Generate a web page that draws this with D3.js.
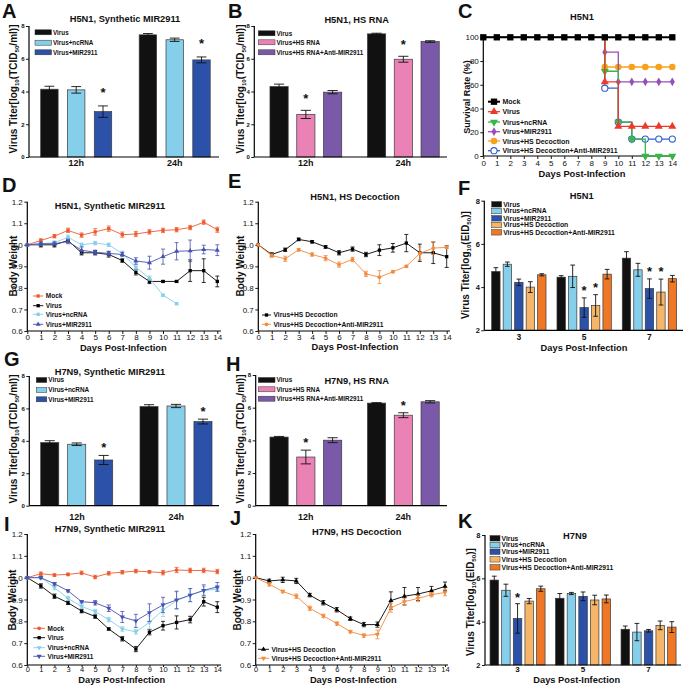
<!DOCTYPE html>
<html><head><meta charset="utf-8">
<script src="https://cdn.jsdelivr.net/npm/d3@7"></script>
<style>
body{margin:0;background:#fff;}
svg text{font-family:"Liberation Sans",Arial,Helvetica,sans-serif;}
</style></head><body>
<svg id="fig" width="685" height="686"></svg>
<script>
// ---------------- DATA ----------------
const hourCats = ["12h", "24h"];
const dpiCats = ["3", "5", "7"];
const days = [0,1,2,3,4,5,6,7,8,9,10,11,12,13,14];

// A  H5N1, Synthetic MIR2911 (rows = series, cols = 12h, 24h)
const aSeries = ["Virus", "Virus+ncRNA", "Virus+MIR2911"];
const aMean = [[4.14, 7.46], [4.10, 7.16], [2.77, 5.93]];
const aErr  = [[0.18, 0.08], [0.20, 0.10], [0.35, 0.18]];
const aStar = [[0, 0], [0, 0], [1, 1]];

// B  H5N1, HS RNA
const bSeries = ["Virus", "Virus+HS RNA", "Virus+HS RNA+Anti-MIR2911"];
const bMean = [[4.30, 7.52], [2.60, 5.97], [3.96, 7.05]];
const bErr  = [[0.15, 0.04], [0.25, 0.18], [0.10, 0.05]];
const bStar = [[0, 0], [1, 1], [0, 0]];

// C  H5N1 survival (%)
const cSeries = ["Mock", "Virus", "Virus+ncRNA", "Virus+MIR2911", "Virus+HS Decoction", "Virus+HS Decoction+Anti-MIR2911"];
const cMock  = [100,100,100,100,100,100,100,100,100,100,100,100,100,100,100];
const cVirus = [100,100,100,100,100,100,100,100,100,62.5,25,25,25,25,25];
const cNc    = [100,100,100,100,100,100,100,100,100,71.4,28.6,14.3,0,0,0];
const cMir   = [100,100,100,100,100,100,100,100,100,87.5,62.5,62.5,62.5,62.5,62.5];
const cDec   = [100,100,100,100,100,100,100,100,100,75,75,75,75,75,75];
const cAnti  = [100,100,100,100,100,100,100,100,100,57.1,28.6,14.3,14.3,14.3,14.3];

// D  H5N1, Synthetic MIR2911 body weight
const dMock     = [1.00,1.02,1.04,1.067,1.045,1.06,1.075,1.047,1.05,1.06,1.067,1.07,1.08,1.105,1.07];
const dMockErr  = [0,0.008,0.008,0.01,0.01,0.015,0.012,0.012,0.012,0.01,0.01,0.01,0.01,0.01,0.012];
const dVirus    = [1.00,1.00,1.00,1.02,0.963,0.963,0.955,0.927,0.872,0.83,0.83,0.83,0.88,0.88,0.83];
const dVirusErr = [0,0.01,0.01,0.01,0.01,0.01,0.012,0.008,0.012,0.01,0.004,0.004,0.05,0.055,0.025];
const dNc       = [1.00,1.005,1.01,1.035,1.00,1.008,1.00,0.96,0.895,0.845,0.766,0.727];
const dNcErr    = [0,0.005,0.008,0.01,0.008,0.008,0.008,0.01,0.012,0.01,0.005,0.005];
const dMir      = [1.00,1.005,1.005,1.015,0.975,0.965,0.96,0.955,0.925,0.917,0.945,0.97,0.972,0.978,0.975];
const dMirErr   = [0,0.008,0.008,0.01,0.015,0.01,0.01,0.01,0.015,0.03,0.035,0.04,0.05,0.02,0.025];

// E  H5N1, HS Decoction body weight
const eVirus    = [1.00,0.955,0.977,1.025,1.014,0.99,0.963,0.98,0.955,0.975,0.986,1.008,0.963,0.963,0.945];
const eVirusErr = [0,0.008,0.008,0.006,0.006,0.006,0.01,0.01,0.01,0.025,0.02,0.04,0.04,0.05,0.05];
const eAnti     = [1.00,0.95,0.935,0.977,0.955,0.938,0.908,0.932,0.865,0.85,0.875,0.90,0.96,0.985,0.988];
const eAntiErr  = [0,0.008,0.012,0.006,0.008,0.012,0.012,0.01,0.012,0.03,0.005,0.005,0.03,0.03,0.005];

// F  H5N1 lung titer (rows = series, cols = day 3, 5, 7)
const fSeries = ["Virus", "Virus+ncRNA", "Virus+MIR2911", "Virus+HS Decoction", "Virus+HS Decoction+Anti-MIR2911"];
const fMean = [[4.72, 4.46, 5.34], [5.06, 4.50, 4.80], [4.22, 3.05, 3.93], [4.00, 3.15, 3.77], [4.57, 4.60, 4.39]];
const fErr  = [[0.18, 0.07, 0.30], [0.10, 0.52, 0.30], [0.15, 0.45, 0.45], [0.25, 0.50, 0.60], [0.05, 0.22, 0.15]];
const fStar = [[0, 0, 0], [0, 0, 0], [0, 1, 1], [0, 1, 1], [0, 0, 0]];

// G  H7N9, Synthetic MIR2911
const gMean = [[3.89, 6.11], [3.79, 6.15], [2.82, 5.19]];
const gErr  = [[0.12, 0.12], [0.08, 0.10], [0.28, 0.15]];
const gStar = [[0, 0], [0, 0], [1, 1]];

// H  H7N9, HS RNA
const hMean = [[4.20, 6.28], [2.98, 5.54], [4.01, 6.36]];
const hErr  = [[0.04, 0.03], [0.42, 0.15], [0.15, 0.07]];
const hStar = [[0, 0], [1, 1], [0, 0]];

// I  H7N9, Synthetic MIR2911 body weight
const iMock     = [1.00,1.018,1.012,1.015,1.022,1.003,1.02,1.025,1.03,1.027,1.023,1.035,1.033,1.033,1.028];
const iMockErr  = [0,0.008,0.006,0.006,0.008,0.008,0.008,0.008,0.008,0.006,0.01,0.012,0.01,0.01,0.01];
const iVirus    = [1.00,0.962,0.915,0.885,0.847,0.822,0.765,0.72,0.673,0.75,0.78,0.795,0.808,0.89,0.865];
const iVirusErr = [0,0.01,0.01,0.008,0.008,0.008,0.005,0.01,0.012,0.012,0.02,0.03,0.015,0.02,0.025];
const iNc       = [1.00,1.00,0.955,0.905,0.868,0.845,0.808,0.765,0.752,0.795,0.852,0.895,0.92,0.94,0.948];
const iNcErr    = [0,0.005,0.01,0.01,0.01,0.01,0.01,0.01,0.01,0.03,0.03,0.04,0.03,0.02,0.01];
const iMir      = [1.00,1.00,0.972,0.94,0.89,0.885,0.86,0.82,0.802,0.84,0.875,0.898,0.92,0.942,0.958];
const iMirErr   = [0,0.005,0.006,0.005,0.005,0.01,0.015,0.025,0.03,0.04,0.035,0.04,0.03,0.025,0.02];

// J  H7N9, HS Decoction body weight
const jVirus    = [1.00,0.985,0.99,0.985,0.92,0.885,0.853,0.812,0.785,0.785,0.895,0.915,0.925,0.94,0.96];
const jVirusErr = [0,0.008,0.012,0.012,0.008,0.01,0.01,0.008,0.01,0.012,0.04,0.04,0.03,0.02,0.02];
const jAnti     = [1.00,0.97,0.937,0.915,0.86,0.825,0.79,0.753,0.735,0.74,0.862,0.89,0.905,0.922,0.932];
const jAntiErr  = [0,0.008,0.006,0.01,0.01,0.008,0.008,0.006,0.008,0.02,0.02,0.015,0.015,0.01,0.015];

// K  H7N9 lung titer
const kMean = [[5.92, 5.08, 3.65], [5.45, 5.30, 3.52], [4.15, 5.17, 3.58], [4.95, 5.00, 3.83], [5.52, 5.05, 3.75]];
const kErr  = [[0.18, 0.22, 0.15], [0.28, 0.05, 0.40], [0.68, 0.20, 0.06], [0.12, 0.22, 0.20], [0.12, 0.18, 0.25]];
const kStar = [[0, 0, 0], [0, 0, 0], [1, 0, 0], [0, 0, 0], [0, 0, 0]];

const titerTicks = [0, 2, 4, 6, 8];
const eidTicks = [2, 4, 6, 8];
const bwTicks = [0.6, 0.7, 0.8, 0.9, 1.0, 1.1, 1.2];
const survTicks = [0, 20, 40, 60, 80, 100];

// ---------------- STYLE ----------------
const FONT = '"Liberation Sans", Arial, Helvetica, sans-serif';
const C = {
  black: "#111111", lblue: "#86cfea", dblue: "#2b52a8", pink: "#ea82b5", purple: "#7a5aa8",
  lorange: "#f6b66a", orange: "#ef7826",
  mock: "#ee5a30", mirLine: "#4752b0", antiLine: "#f48a3c",
  cRed: "#ec3a2a", cGreen: "#3bb54a", cPurple: "#9650b8", cOrange: "#f7a21c", cBlue: "#2f5fd0"
};

const svg = d3.select("#fig");

function txt(g, x, y, s, size, o = {}) {
  return g.append("text").attr("x", x).attr("y", y).text(s)
    .attr("font-size", size).attr("font-weight", o.weight || "bold")
    .attr("text-anchor", o.anchor || "start").attr("fill", o.fill || "#111");
}

function vTitle(x, yc, parts, size) {
  const t = svg.append("text").attr("transform", `translate(${x},${yc}) rotate(-90)`)
    .attr("text-anchor", "middle").attr("font-size", size).attr("font-weight", "bold")
    .attr("dominant-baseline", "central").attr("fill", "#111");
  let shifted = false;
  parts.forEach(p => {
    if (typeof p === "string") {
      const ts = t.append("tspan").text(p);
      if (shifted) { ts.attr("dy", -size * 0.3); shifted = false; }
    } else {
      t.append("tspan").text(p.sub).attr("font-size", size * 0.62).attr("dy", size * 0.3);
      shifted = true;
    }
  });
}

function styleAxis(a, size, weight) {
  a.attr("font-family", FONT);
  a.select(".domain").remove();
  a.selectAll(".tick line").attr("stroke", "#000").attr("stroke-width", 0.9);
  a.selectAll(".tick text").attr("font-size", size).attr("font-weight", weight).attr("fill", "#111");
}

function barPanel(o) {
  const g = svg.append("g");
  const x0 = d3.scaleBand().domain(o.cats).range(o.xRange);
  const bw = x0.bandwidth();
  const x1 = d3.scaleBand().domain(o.series).range([o.inner[0] * bw, o.inner[1] * bw]).paddingInner(o.pad);
  const y = d3.scaleLinear().domain(o.yDomain).range(o.yRange);
  const base = y(o.yDomain[0]);
  const w = x1.bandwidth();
  o.series.forEach((s, si) => {
    o.cats.forEach((c, ci) => {
      const v = o.mean[si][ci], e = o.err[si][ci];
      const bx = x0(c) + x1(s), cx = bx + w / 2;
      g.append("rect").attr("x", bx).attr("y", y(v)).attr("width", w).attr("height", base - y(v))
        .attr("fill", o.colors[si]).attr("stroke", "#3a3a3a").attr("stroke-width", 0.7);
      const cw = w * 0.28;
      const eg = g.append("g").attr("stroke", "#111").attr("stroke-width", 0.9);
      eg.append("line").attr("x1", cx).attr("x2", cx).attr("y1", y(v - e)).attr("y2", y(v + e));
      [v - e, v + e].forEach(q => eg.append("line").attr("x1", cx - cw).attr("x2", cx + cw).attr("y1", y(q)).attr("y2", y(q)));
      if (o.star[si][ci]) txt(g, cx, y(v + e) - o.starOff + 7.5, "*", 13, { anchor: "middle" });
    });
  });
  const ya = g.append("g").attr("transform", `translate(${o.yAxisX},0)`)
    .call(d3.axisLeft(y).tickValues(o.yTicks).tickSize(3).tickPadding(1.5).tickFormat(d3.format("d")));
  styleAxis(ya, o.tickSize, "bold");
  ya.append("line").attr("y1", o.yRange[0]).attr("y2", o.yRange[1]).attr("stroke", "#000").attr("stroke-width", 1.2);
  g.append("line").attr("x1", o.yAxisX).attr("x2", o.axisEnd).attr("y1", base).attr("y2", base)
    .attr("stroke", "#000").attr("stroke-width", 1.2);
  o.cats.forEach(c => txt(g, x0(c) + bw / 2, o.catY, c, o.catSize, { anchor: "middle" }));
  o.series.forEach((s, si) => {
    const ly = o.legY[si];
    g.append("rect").attr("x", o.legX).attr("y", ly - o.swH / 2).attr("width", o.swW).attr("height", o.swH)
      .attr("fill", o.colors[si]).attr("stroke", "#333").attr("stroke-width", 0.5);
    txt(g, o.legX + o.swW + 1.5, ly + o.legSize * 0.36, s, o.legSize);
  });
}

function symPath(type, size) { return d3.symbol().type(type).size(size)(); }

function linePanel(o) {
  const g = svg.append("g");
  const x = d3.scaleLinear().domain([days[0], days[days.length - 1]]).range(o.xRange);
  const y = d3.scaleLinear().domain(o.yDomain).range(o.yRange);
  const xa = g.append("g").attr("transform", `translate(0,${o.yRange[0]})`)
    .call(d3.axisBottom(x).tickValues(days).tickSize(o.xTick || 3).tickPadding(o.xPad || 0).tickFormat(d3.format("d")));
  styleAxis(xa, o.xTickSize || 8, o.xTickWeight || "normal");
  xa.append("line").attr("x1", o.xRange[0]).attr("x2", o.axisEnd).attr("stroke", "#000").attr("stroke-width", 1.2);
  const ya = g.append("g").attr("transform", `translate(${o.xRange[0]},0)`)
    .call(d3.axisLeft(y).tickValues(o.yTicks).tickSize(3).tickPadding(1.5).tickFormat(o.yFmt));
  styleAxis(ya, o.yTickSize || 8, o.yTickWeight || "normal");
  ya.append("line").attr("y1", o.yRange[0]).attr("y2", o.yRange[1]).attr("stroke", "#000").attr("stroke-width", 1.2);

  o.series.forEach(s => {
    const pts = s.values.map((v, i) => ({ d: days[i], v, e: s.errs ? s.errs[i] : 0 }));
    g.append("path").datum(pts)
      .attr("d", d3.line().x(p => x(p.d)).y(p => y(p.v)).curve(o.curve || d3.curveLinear))
      .attr("fill", "none").attr("stroke", s.color).attr("stroke-width", s.lw || o.lw || 1);
    const cw = o.cap || 2;
    pts.forEach(p => {
      if (p.e > 0) {
        const eg = g.append("g").attr("stroke", s.color).attr("stroke-width", 0.8);
        eg.append("line").attr("x1", x(p.d)).attr("x2", x(p.d)).attr("y1", y(p.v - p.e)).attr("y2", y(p.v + p.e));
        [p.v - p.e, p.v + p.e].forEach(q => eg.append("line").attr("x1", x(p.d) - cw).attr("x2", x(p.d) + cw).attr("y1", y(q)).attr("y2", y(q)));
      }
    });
    pts.forEach(p => {
      if (s.skip !== undefined && p.v === s.skip) return;
      g.append("path").attr("d", symPath(s.sym, s.size || o.symSize))
        .attr("transform", `translate(${x(p.d)},${y(p.v)}) rotate(${s.rot || 0})`)
        .attr("fill", s.fill || s.color).attr("stroke", s.stroke || "none").attr("stroke-width", s.sw || 0);
    });
  });
  // legend
  o.series.forEach((s, si) => {
    const li = o.legOrder ? o.legOrder.indexOf(si) : si;
    const ly = o.legY[li];
    g.append("line").attr("x1", o.legX[0]).attr("x2", o.legX[1]).attr("y1", ly).attr("y2", ly)
      .attr("stroke", s.color).attr("stroke-width", s.lw || o.lw || 1);
    g.append("path").attr("d", symPath(s.sym, (s.size || o.symSize) * (o.legSym || 1)))
      .attr("transform", `translate(${(o.legX[0] + o.legX[1]) / 2},${ly}) rotate(${s.rot || 0})`)
      .attr("fill", s.fill || s.color).attr("stroke", s.stroke || "none").attr("stroke-width", s.sw || 0);
    txt(g, o.legX[1] + 2.5, ly + o.legSize * 0.36, s.name, o.legSize);
  });
}

const tcidParts = ["Virus Titer[log", { sub: "10" }, "(TCID", { sub: "50" }, "/ml)]"];
const eidParts = ["Virus Titer[log", { sub: "10" }, "(EID", { sub: "50" }, ")]"];
const fmt1 = d3.format(".1f");

// ---------------- PANELS ----------------
const colsA = [C.black, C.lblue, C.dblue];
const colsB = [C.black, C.pink, C.purple];
const cols5 = [C.black, C.lblue, C.dblue, C.lorange, C.orange];

barPanel({ cats: hourCats, series: aSeries, mean: aMean, err: aErr, star: aStar, colors: colsA,
  xRange: [27, 224], inner: [0.139, 0.86], pad: 0.35, yDomain: [0, 8], yRange: [157, 26], yTicks: titerTicks,
  yAxisX: 29, axisEnd: 219, catY: 166, catSize: 9, legX: 35, swW: 16.5, swH: 5, legY: [32.3, 42.7, 52.3],
  legSize: 6.3, starOff: 16, tickSize: 6 });
barPanel({ cats: hourCats, series: bSeries, mean: bMean, err: bErr, star: bStar, colors: colsB,
  xRange: [257, 452], inner: [0.133, 0.869], pad: 0.32, yDomain: [0, 8], yRange: [157, 26], yTicks: titerTicks,
  yAxisX: 254.3, axisEnd: 447, catY: 166, catSize: 9, legX: 258.3, swW: 16.7, swH: 5, legY: [33.3, 42.3, 52.3],
  legSize: 6.3, starOff: 15, tickSize: 6 });
barPanel({ cats: hourCats, series: aSeries, mean: gMean, err: gErr, star: gStar, colors: colsA,
  xRange: [27.3, 225.9], inner: [0.135, 0.86], pad: 0.33, yDomain: [0, 8], yRange: [505.7, 376], yTicks: titerTicks,
  yAxisX: 29.3, axisEnd: 219, catY: 519.5, catSize: 9, legX: 36.3, swW: 10.5, swH: 5, legY: [380, 390, 399.3],
  legSize: 6.4, starOff: 11, tickSize: 6 });
barPanel({ cats: hourCats, series: bSeries, mean: hMean, err: hErr, star: hStar, colors: colsB,
  xRange: [257, 452], inner: [0.133, 0.869], pad: 0.32, yDomain: [0, 8], yRange: [505.7, 375], yTicks: titerTicks,
  yAxisX: 255.7, axisEnd: 447, catY: 519.5, catSize: 9, legX: 258.3, swW: 16.7, swH: 5, legY: [380, 389.3, 398.7],
  legSize: 6.3, starOff: 10.5, tickSize: 6 });
barPanel({ cats: dpiCats, series: fSeries, mean: fMean, err: fErr, star: fStar, colors: cols5,
  xRange: [486.2, 682.1], inner: [0.084, 0.916], pad: 0.27, yDomain: [2, 8], yRange: [330.3, 200.7], yTicks: eidTicks,
  yAxisX: 484.3, axisEnd: 683, catY: 339.5, catSize: 8.5, legX: 491.7, swW: 10, swH: 5.5, legY: [204.3, 211, 218.3, 225, 232.3],
  legSize: 6.8, starOff: 10.5, tickSize: 7.5 });
barPanel({ cats: dpiCats, series: fSeries, mean: kMean, err: kErr, star: kStar, colors: cols5,
  xRange: [484.8, 681.3], inner: [0.08, 0.92], pad: 0.27, yDomain: [2, 8], yRange: [665, 535], yTicks: eidTicks,
  yAxisX: 485, axisEnd: 681, catY: 671.8, catSize: 8, legX: 490, swW: 10, swH: 5.5, legY: [538.3, 545, 551.7, 559.3, 567.3],
  legSize: 6.8, starOff: 9, tickSize: 7.5 });

// C survival
linePanel({
  xRange: [483.3, 672.3], axisEnd: 675, yDomain: [0, 100], yRange: [156, 37.3], yTicks: survTicks, yFmt: d3.format("d"),
  curve: d3.curveStepAfter, lw: 1.3, symSize: 30, xTick: 3, xPad: 1.5, xTickSize: 8, yTickSize: 8,
  legX: [488, 500], legY: [101.7, 111.7, 122, 131.7, 141, 150.7], legSize: 7, legOrder: [5, 4, 3, 2, 1, 0],
  series: [
    { name: cSeries[5], values: cAnti, color: C.cBlue, sym: d3.symbolCircle, size: 30, fill: "#fff", stroke: C.cBlue, sw: 1.1, skip: 100 },
    { name: cSeries[4], values: cDec, color: C.cOrange, sym: d3.symbolCircle, size: 34, skip: 100 },
    { name: cSeries[3], values: cMir, color: C.cPurple, sym: d3.symbolDiamond, size: 22, skip: 100 },
    { name: cSeries[2], values: cNc, color: C.cGreen, sym: d3.symbolTriangle, size: 28, rot: 180, skip: 100 },
    { name: cSeries[1], values: cVirus, color: C.cRed, sym: d3.symbolTriangle, size: 28, skip: 100 },
    { name: cSeries[0], values: cMock, color: "#000", sym: d3.symbolSquare, size: 40, lw: 2 }
  ]
});

// D
linePanel({
  xRange: [27.3, 217.3], axisEnd: 221, yDomain: [0.6, 1.2], yRange: [331, 201.7], yTicks: bwTicks, yFmt: fmt1,
  lw: 0.9, symSize: 11, cap: 2, legX: [33, 43.3], legY: [296, 305.7, 314.3, 324.3], legSize: 6.5,
  series: [
    { name: "Mock", values: dMock, errs: dMockErr, color: C.mock, sym: d3.symbolSquare },
    { name: "Virus", values: dVirus, errs: dVirusErr, color: "#000", sym: d3.symbolSquare },
    { name: "Virus+ncRNA", values: dNc, errs: dNcErr, color: C.lblue, sym: d3.symbolSquare },
    { name: "Virus+MIR2911", values: dMir, errs: dMirErr, color: C.mirLine, sym: d3.symbolTriangle }
  ]
});
// E
linePanel({
  xRange: [258.3, 446.7], axisEnd: 450, yDomain: [0.6, 1.2], yRange: [331, 201.7], yTicks: bwTicks, yFmt: fmt1,
  lw: 0.9, symSize: 11, cap: 2, legX: [262, 271], legY: [315, 324.3], legSize: 6.7,
  series: [
    { name: "Virus+HS Decoction", values: eVirus, errs: eVirusErr, color: "#000", sym: d3.symbolSquare },
    { name: "Virus+HS Decoction+Anti-MIR2911", values: eAnti, errs: eAntiErr, color: C.antiLine, sym: d3.symbolCircle }
  ]
});
// I
linePanel({
  xRange: [27.3, 217.3], axisEnd: 221, yDomain: [0.6, 1.2], yRange: [665, 534], yTicks: bwTicks, yFmt: fmt1,
  lw: 0.9, symSize: 11, cap: 2, xTick: 2, xPad: 0, xTickSize: 7.5, legX: [33.3, 45], legY: [628.3, 637.7, 647.7, 656.3], legSize: 6.5,
  series: [
    { name: "Mock", values: iMock, errs: iMockErr, color: C.mock, sym: d3.symbolCircle },
    { name: "Virus", values: iVirus, errs: iVirusErr, color: "#000", sym: d3.symbolSquare },
    { name: "Virus+ncRNA", values: iNc, errs: iNcErr, color: C.lblue, sym: d3.symbolTriangle, rot: 180 },
    { name: "Virus+MIR2911", values: iMir, errs: iMirErr, color: C.mirLine, sym: d3.symbolTriangle, rot: 180 }
  ]
});
// J
linePanel({
  xRange: [255.7, 445], axisEnd: 448, yDomain: [0.6, 1.2], yRange: [665, 534], yTicks: bwTicks, yFmt: fmt1,
  lw: 0.9, symSize: 11, cap: 2, xTick: 2, xPad: 0, xTickSize: 7.5, legX: [258, 269], legY: [649.3, 658.3], legSize: 6.7,
  series: [
    { name: "Virus+HS Decoction", values: jVirus, errs: jVirusErr, color: "#000", sym: d3.symbolTriangle },
    { name: "Virus+HS Decoction+Anti-MIR2911", values: jAnti, errs: jAntiErr, color: C.antiLine, sym: d3.symbolTriangle, rot: 180 }
  ]
});

// ---------------- TEXTS ----------------
const root = svg.append("g");
[["A", 2, 18], ["B", 228, 18], ["C", 458, 18], ["D", 2, 192], ["E", 228, 188], ["F", 458, 195],
 ["G", 4, 366], ["H", 226, 371], ["I", 4, 531], ["J", 230, 525], ["K", 458, 528]]
  .forEach(([l, x, y]) => txt(root, x, y, l, 20));

[["H5N1, Synthetic MIR2911", 125, 21.5], ["H5N1, HS RNA", 356.7, 23.3], ["H5N1", 582, 20.3],
 ["H5N1, Synthetic MIR2911", 110, 209.3], ["H5N1, HS Decoction", 355, 200], ["H5N1", 581.7, 199],
 ["H7N9, Synthetic MIR2911", 110, 375], ["H7N9, HS RNA", 356.7, 384], ["H7N9, Synthetic MIR2911", 110, 531.6],
 ["H7N9, HS Decoction", 356.7, 535], ["H7N9", 575, 539.3]]
  .forEach(([t, x, y]) => txt(root, x, y, t, 9.3, { anchor: "middle" }));

[[582, 177.4], [123.3, 351], [355, 350.4], [584, 351], [121.7, 682.6], [353.3, 682.6], [576.7, 682.8]]
  .forEach(([x, y]) => txt(root, x, y, "Days Post-Infection", 9.3, { anchor: "middle" }));

vTitle(13, 89, tcidParts, 10);
vTitle(240, 89, tcidParts, 10);
vTitle(466.5, 97, ["Survival Rate (%)"], 9);
vTitle(13.3, 266, ["Body Weight"], 10);
vTitle(240, 266, ["Body Weight"], 10);
vTitle(465, 265, eidParts, 10);
vTitle(13, 439, tcidParts, 10);
vTitle(240, 439, tcidParts, 10);
vTitle(12, 600, ["Body Weight"], 10);
vTitle(237, 600, ["Body Weight"], 10);
vTitle(470, 602, eidParts, 10);
</script>
</body></html>
